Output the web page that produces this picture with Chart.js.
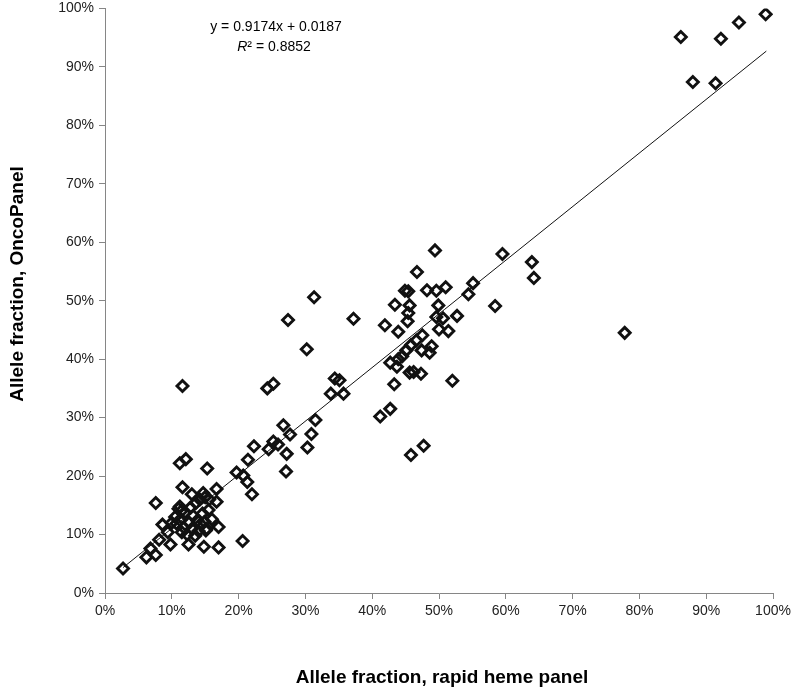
<!DOCTYPE html>
<html>
<head>
<meta charset="utf-8">
<script src="https://cdn.jsdelivr.net/npm/chart.js@4/dist/chart.umd.min.js"></script>
<style>
  html, body { margin: 0; padding: 0; background: #fff; }
  #wrap { width: 791px; height: 692px; }
</style>
</head>
<body>
<div id="wrap"><canvas id="scatter" width="791" height="692"></canvas></div>
<script>
// values in percent
var rapidHeme = [
  86.2, 94.9, 98.9, 92.2, 88.0, 91.4, 77.8,
  49.4, 59.5, 63.9, 64.2, 46.7, 44.9, 45.4, 48.2, 49.6, 51.0, 55.1, 54.4, 58.4,
  43.4, 45.6, 49.9, 45.4, 45.3, 41.9, 43.9, 49.6, 50.6, 52.7, 50.0, 51.4, 47.5,
  46.6, 45.8, 45.1, 44.5, 43.9, 42.7, 43.7, 48.9, 48.6, 47.4, 45.6, 46.2, 47.3,
  43.3, 52.0, 42.7, 41.2, 47.7, 45.8,
  31.3, 27.4, 37.2, 30.2, 34.4, 35.1, 33.8, 35.7, 24.3, 25.2, 31.5, 26.7, 27.7,
  30.9, 30.3, 22.3, 25.2, 25.9, 24.5, 27.2, 21.4, 15.3, 27.1, 19.7, 20.7,
  11.6, 11.2, 12.1, 21.3, 22.0, 11.6, 13.0, 7.6, 11.2, 16.7, 16.7, 14.7,
  2.7, 6.2, 7.6, 6.8, 8.1, 9.8, 9.4, 8.6, 10.7, 11.0, 12.5, 14.8, 17.0, 20.6, 17.0, 15.1,
  10.0, 10.5, 11.2, 11.8, 12.0, 12.3, 12.6, 13.0, 13.2, 13.5, 13.8, 14.0, 14.3,
  14.6, 14.9, 15.2, 15.5, 12.8, 11.4, 13.6, 14.2, 15.0, 15.6, 11.5, 16.0
];
var oncoPanel = [
  95.1, 97.6, 99.0, 94.8, 87.4, 87.2, 44.5,
  58.6, 58.0, 56.6, 53.9, 54.9, 51.7, 51.6, 51.8, 51.7, 52.3, 53.0, 51.1, 49.1,
  49.3, 49.2, 49.2, 47.9, 46.5, 45.8, 44.7, 47.2, 47.0, 47.4, 45.1, 44.8, 44.1,
  43.2, 42.4, 41.5, 40.5, 40.0, 39.4, 38.7, 42.2, 41.1, 41.5, 37.7, 37.8, 37.5,
  35.7, 36.3, 31.5, 30.2, 25.2, 23.6,
  50.6, 46.7, 46.9, 41.7, 36.7, 36.4, 34.1, 34.1, 35.0, 35.8, 29.6, 28.7, 27.1,
  27.2, 24.9, 25.1, 25.9, 25.4, 24.6, 23.8, 22.8, 21.3, 20.8, 20.6, 20.1,
  35.4, 22.2, 22.9, 19.0, 16.9, 18.1, 16.9, 15.4, 14.8, 17.8, 15.6, 17.1,
  4.2, 6.1, 6.5, 7.6, 9.1, 8.3, 10.4, 11.7, 11.9, 14.4, 8.3, 7.9, 7.8, 8.9, 11.3, 10.7,
  12.0, 13.0, 12.5, 11.2, 13.8, 10.0, 12.0, 11.0, 13.2, 9.8, 12.4, 10.6, 11.8,
  13.6, 12.2, 11.0, 14.2, 14.6, 14.0, 15.4, 16.0, 16.4, 16.0, 10.4, 12.6
];
var tickValues = [0, 10, 20, 30, 40, 50, 60, 70, 80, 90, 100];

// linear fit shown on the chart
var fitSlope = 0.9174;
var fitIntercept = 1.87;
var fitRange = [2.7, 99.0];
var fitLabel = 'y = 0.9174x + 0.0187';
var r2Value = '0.8852';

var xTitle = 'Allele fraction, rapid heme panel';
var yTitle = 'Allele fraction, OncoPanel';

var points = rapidHeme.map(function(x, i) { return {x: x, y: oncoPanel[i]}; });
var trend = fitRange.map(function(x) { return {x: x, y: fitSlope * x + fitIntercept}; });

var axisGray = '#868686';
var tickFont = {family: "'Liberation Sans', Arial, sans-serif", size: 14};

// fixed axis sizes so the plot box sits where the original one does
function fixY(scale) { scale.width = 105; scale.paddingTop = 0; scale.paddingBottom = 0; }
function fixX(scale) { scale.height = 99; scale.paddingLeft = 0; scale.paddingRight = 0; }

var textPlugin = {
  id: 'chartText',
  afterDraw: function(chart) {
    var ctx = chart.ctx;
    ctx.save();
    ctx.fillStyle = '#000';
    ctx.textBaseline = 'middle';
    ctx.textAlign = 'center';

    // equation box
    ctx.font = "14px 'Liberation Sans', Arial, sans-serif";
    ctx.fillText(fitLabel, 276, 27);
    var rest = '\u00B2 = ' + r2Value;
    ctx.font = "italic 14px 'Liberation Sans', Arial, sans-serif";
    var wR = ctx.measureText('R').width;
    ctx.font = "14px 'Liberation Sans', Arial, sans-serif";
    var wRest = ctx.measureText(rest).width;
    var startX = 274 - (wR + wRest) / 2;
    ctx.textAlign = 'left';
    ctx.font = "italic 14px 'Liberation Sans', Arial, sans-serif";
    ctx.fillText('R', startX, 47);
    ctx.font = "14px 'Liberation Sans', Arial, sans-serif";
    ctx.fillText(rest, startX + wR, 47);

    // axis titles
    ctx.textAlign = 'center';
    ctx.font = "bold 19px 'Liberation Sans', Arial, sans-serif";
    ctx.fillText(xTitle, 442, 678);
    ctx.translate(18, 284);
    ctx.rotate(-Math.PI / 2);
    ctx.fillText(yTitle, 0, 0);
    ctx.restore();
  }
};

var ctx = document.getElementById('scatter').getContext('2d');
window.myScatter = new Chart(ctx, {
  type: 'scatter',
  data: {
    datasets: [{
      label: 'Allele fraction',
      data: points,
      pointStyle: 'rectRot',
      pointRadius: 5.5,
      pointHoverRadius: 5.5,
      pointBorderWidth: 2.9,
      borderColor: '#111',
      backgroundColor: 'rgba(0,0,0,0)',
      order: 1
    }, {
      type: 'line',
      label: 'Linear fit',
      data: trend,
      borderColor: '#111',
      borderWidth: 1,
      pointRadius: 0,
      fill: false,
      order: 2
    }]
  },
  options: {
    responsive: false,
    animation: false,
    layout: {padding: {top: 6, right: 18, bottom: 0, left: 0}},
    plugins: {
      legend: {display: false},
      tooltip: {enabled: false}
    },
    scales: {
      x: {
        type: 'linear',
        min: 0,
        max: 100,
        afterFit: fixX,
        afterBuildTicks: function(scale) {
          scale.ticks = tickValues.map(function(v) { return {value: v}; });
        },
        border: {color: axisGray, width: 1},
        grid: {display: true, drawOnChartArea: false, drawTicks: true, tickLength: 6, color: axisGray},
        ticks: {
          color: '#222',
          font: tickFont,
          padding: 4,
          maxRotation: 0,
          callback: function(v) { return v + '%'; }
        }
      },
      y: {
        type: 'linear',
        min: 0,
        max: 100,
        afterFit: fixY,
        afterBuildTicks: function(scale) {
          scale.ticks = tickValues.map(function(v) { return {value: v}; });
        },
        border: {color: axisGray, width: 1},
        grid: {display: true, drawOnChartArea: false, drawTicks: true, tickLength: 6, color: axisGray},
        ticks: {
          color: '#222',
          font: tickFont,
          padding: 5,
          callback: function(v) { return v + '%'; }
        }
      }
    }
  },
  plugins: [textPlugin]
});
</script>
</body>
</html>
